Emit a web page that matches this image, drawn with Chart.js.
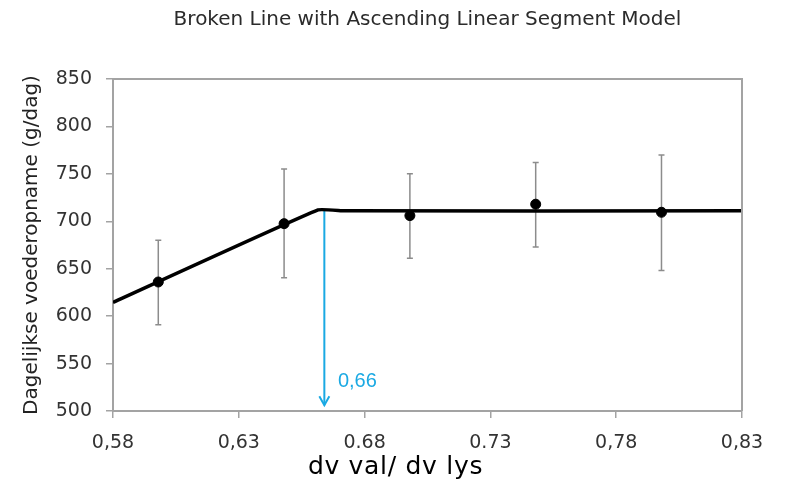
<!DOCTYPE html>
<html>
<head>
<meta charset="utf-8">
<script src="https://cdn.jsdelivr.net/npm/chart.js@4/dist/chart.umd.min.js"></script>
<style>
  html, body { margin: 0; padding: 0; background: #ffffff; }
  #wrap { width: 785px; height: 482px; }
</style>
</head>
<body>
<div id="wrap"><canvas id="chart"></canvas></div>
<script>
// Ratio dv val / dv lys per treatment and measured daily feed intake (g/day)
const ratios      = [0.598, 0.648, 0.698, 0.748, 0.798];
const meanIntake  = [636, 697.5, 706, 718, 709.5];
const intakeLow   = [591, 640.5, 661, 673, 648];
const intakeHigh  = [680, 755, 750, 762, 770];

// Fitted broken-line model (ascending segment, then plateau)
const modelX = [0.58, 0.6615, 0.672, 0.83];
const modelY = [614.5, 712, 711, 711];

// Breakpoint of the model
const breakX = 0.664;
const breakTop = 711;
const breakBottom = 506;
const breakLabel = '0,66';
const breakLabelPos = { x: 0.6694, y: 531.5 };

// Axis ticks and titles
const xTickValues = [0.58, 0.63, 0.68, 0.73, 0.78, 0.83];
const xTickLabels = ['0,58', '0,63', '0.68', '0.73', '0,78', '0,83'];
const yMin = 500, yMax = 850, yStep = 50;
const xAxisTitle = 'dv val/ dv lys';

const axisGrey = '#a3a3a3';
const breakBlue = '#1aa9e3';

// Vertical error bars behind the mean points
const errorBars = {
  id: 'errorBars',
  beforeDatasetsDraw(chart) {
    const { ctx, scales: { x, y } } = chart;
    ctx.save();
    ctx.strokeStyle = '#8c8c8c';
    ctx.lineWidth = 1.5;
    ratios.forEach((r, i) => {
      const px = x.getPixelForValue(r);
      const lo = y.getPixelForValue(intakeLow[i]);
      const hi = y.getPixelForValue(intakeHigh[i]);
      ctx.beginPath();
      ctx.moveTo(px, lo); ctx.lineTo(px, hi);
      ctx.moveTo(px - 3, lo); ctx.lineTo(px + 3, lo);
      ctx.moveTo(px - 3, hi); ctx.lineTo(px + 3, hi);
      ctx.stroke();
    });
    ctx.restore();
  }
};

// Arrow head and label for the breakpoint
const breakMarker = {
  id: 'breakMarker',
  afterDatasetsDraw(chart) {
    const { ctx, scales: { x, y } } = chart;
    const px = x.getPixelForValue(breakX);
    const py = y.getPixelForValue(breakBottom);
    ctx.save();
    ctx.strokeStyle = breakBlue;
    ctx.lineWidth = 2;
    ctx.beginPath();
    ctx.moveTo(px - 5, py - 9);
    ctx.lineTo(px, py);
    ctx.lineTo(px + 5, py - 9);
    ctx.stroke();
    ctx.fillStyle = breakBlue;
    ctx.font = '20px "Liberation Sans", Arial, sans-serif';
    ctx.textAlign = 'left';
    ctx.textBaseline = 'middle';
    ctx.fillText(breakLabel, x.getPixelForValue(breakLabelPos.x), y.getPixelForValue(breakLabelPos.y));
    ctx.restore();
  }
};

// Top and right edges of the plot frame, and the x-axis caption centred on the page
const plotFrame = {
  id: 'plotFrame',
  afterDraw(chart) {
    const { ctx, chartArea: a } = chart;
    ctx.save();
    ctx.strokeStyle = axisGrey;
    ctx.lineWidth = 2;
    ctx.beginPath();
    ctx.moveTo(a.left, a.top);
    ctx.lineTo(a.right, a.top);
    ctx.lineTo(a.right, a.bottom);
    ctx.stroke();

    ctx.fillStyle = '#000000';
    ctx.font = '25px "DejaVu Sans", Verdana, sans-serif';
    ctx.letterSpacing = '0.7px';
    ctx.textAlign = 'center';
    ctx.textBaseline = 'alphabetic';
    ctx.fillText(xAxisTitle, chart.width / 2 + 3, chart.height - 8);
    ctx.restore();
  }
};

const tickFont = { family: '"DejaVu Sans", Verdana, sans-serif', size: 19 };

new Chart(document.getElementById('chart'), {
  type: 'scatter',
  data: {
    datasets: [
      {
        label: 'breakpoint',
        data: [{ x: breakX, y: breakTop }, { x: breakX, y: breakBottom }],
        showLine: true,
        borderColor: breakBlue,
        borderWidth: 2,
        pointRadius: 0,
        order: 3
      },
      {
        label: 'model',
        data: modelX.map((v, i) => ({ x: v, y: modelY[i] })),
        showLine: true,
        borderColor: '#000000',
        borderWidth: 3.5,
        tension: 0.12,
        pointRadius: 0,
        order: 2
      },
      {
        label: 'intake',
        data: ratios.map((v, i) => ({ x: v, y: meanIntake[i] })),
        backgroundColor: '#000000',
        borderColor: '#000000',
        pointRadius: 5,
        order: 1
      }
    ]
  },
  options: {
    responsive: true,
    maintainAspectRatio: false,
    devicePixelRatio: 1,
    animation: false,
    layout: { padding: { left: 0, right: 43, top: 0, bottom: 0 } },
    plugins: {
      legend: { display: false },
      tooltip: { enabled: false },
      title: {
        display: true,
        text: 'Broken Line with Ascending Linear Segment Model',
        fullSize: false,
        color: '#2b2b2b',
        font: { family: '"DejaVu Sans", Verdana, sans-serif', size: 20, weight: 'normal', lineHeight: 1.2 },
        padding: { top: 8, bottom: 47 }
      }
    },
    scales: {
      x: {
        type: 'linear',
        min: xTickValues[0],
        max: xTickValues[xTickValues.length - 1],
        afterBuildTicks(scale) { scale.ticks = xTickValues.map(v => ({ value: v })); },
        afterFit(scale) { scale.height = 71; },
        ticks: {
          color: '#333333',
          font: tickFont,
          padding: 14,
          maxRotation: 0,
          autoSkip: false,
          callback: (v, i) => xTickLabels[i]
        },
        grid: { drawOnChartArea: false, drawTicks: true, tickLength: 7, color: axisGrey, lineWidth: 1.5 },
        border: { color: axisGrey, width: 2 }
      },
      y: {
        min: yMin,
        max: yMax,
        afterFit(scale) { scale.width = 113; },
        ticks: { stepSize: yStep, color: '#333333', font: tickFont, padding: 14 },
        grid: { drawOnChartArea: false, drawTicks: true, tickLength: 7, color: axisGrey, lineWidth: 1.5 },
        border: { color: axisGrey, width: 2 },
        title: {
          display: true,
          text: 'Dagelijkse voederopname (g/dag)',
          color: '#222222',
          font: { family: '"DejaVu Sans", Verdana, sans-serif', size: 20, lineHeight: 1.2 },
          padding: { top: 20, bottom: 0 }
        }
      }
    }
  },
  plugins: [errorBars, breakMarker, plotFrame]
});
</script>
</body>
</html>
